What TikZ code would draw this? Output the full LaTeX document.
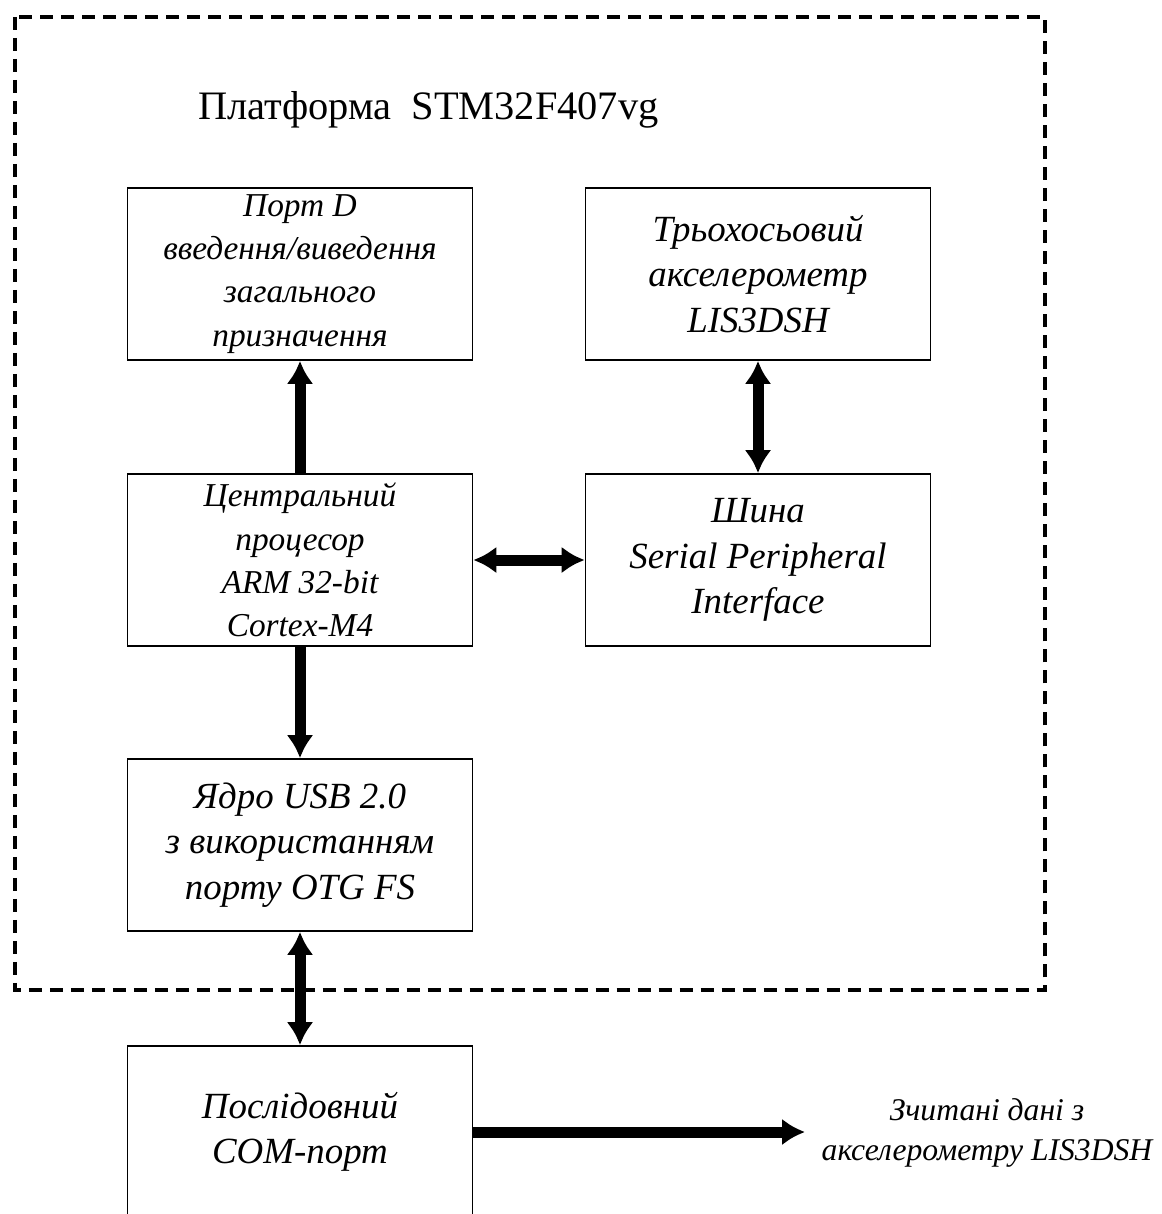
\documentclass[tikz,border=0pt]{standalone}
\usepackage{fontspec}
\setmainfont{Liberation Serif}
\usetikzlibrary{arrows.meta}

\begin{document}
\begin{tikzpicture}[x=0.02cm,y=-0.02cm]
    \tikzstyle{block}=[rectangle,draw,line width=1pt,minimum width=6.9cm,
      minimum height=3.44cm,inner sep=0pt,align=center,
      font=\fontsize{21}{25.8}\selectfont\itshape]
    \tikzstyle{dense}=[font=\fontsize{19}{24.6}\selectfont\itshape]
    \tikzstyle{link}=[line width=0.22cm,-{Latex[length=0.46cm,width=0.54cm]}]
    \tikzstyle{duplex}=[line width=0.22cm,
      {Latex[length=0.46cm,width=0.54cm]}-{Latex[length=0.46cm,width=0.54cm]}]
    \clip (0,0) rectangle (1162,1214);
    % platform frame
    \draw[line width=2.3pt,dash pattern=on 0.26cm off 0.16cm]
      (15,17) rectangle (1045,990);
    \node[anchor=west,font=\fontsize{23}{27}\selectfont] (title) at (192,110)
      {Платформа\ \ STM32F407vg};
    % blocks
    \node[block,dense] (portd) at (300,274)
      {Порт D\\ введення/виведення\\ загального\\ призначення};
    \node[block] (accel) at (758,274)
      {Трьохосьовий\\ акселерометр\\ LIS3DSH};
    \node[block,dense] (cpu) at (300,560)
      {Центральний\\ процесор\\ ARM 32-bit\\ Cortex-M4};
    \node[block] (spi) at (758,560)
      {Шина\\ Serial Peripheral\\ Interface};
    \node[block] (usb) at (300,845)
      {Ядро USB 2.0\\ з використанням\\ порту OTG FS};
    \node[block] (com) at (300,1132)
      {Послідовний\\ COM-порт};
    \node[align=center,font=\fontsize{18}{22.7}\selectfont\itshape] (data)
      at (987,1133) {Зчитані дані з\\ акселерометру LIS3DSH};
    \coordinate (out) at (805,1132);
    % connections
    \draw[link] (cpu) -- (portd);
    \draw[link] (cpu) -- (usb);
    \draw[duplex] (cpu) -- (spi);
    \draw[duplex] (accel) -- (spi);
    \draw[duplex] (usb) -- (com);
    \draw[link] (com.east) -- (out);
\end{tikzpicture}
\end{document}
